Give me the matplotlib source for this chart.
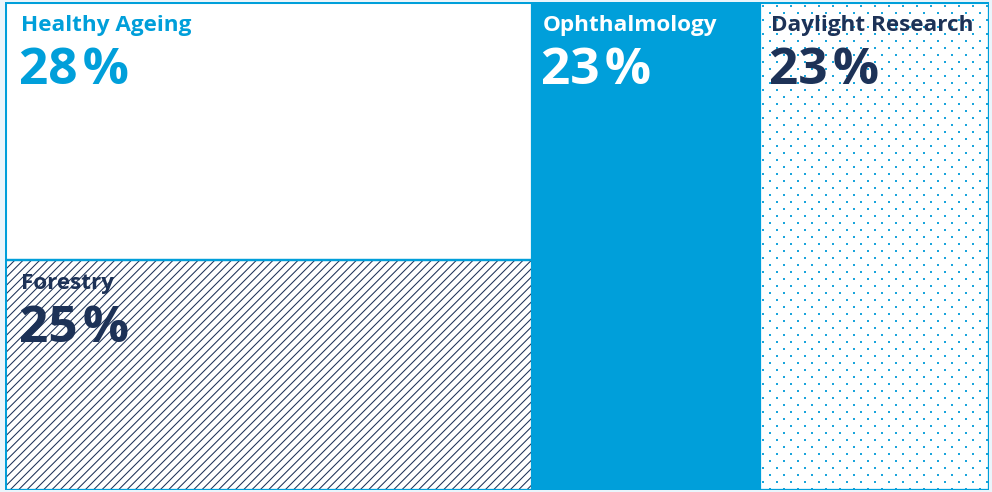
import numpy as np
import matplotlib.pyplot as plt
from matplotlib.patches import Rectangle

# Share of funding by area
areas = ["Healthy Ageing", "Forestry", "Ophthalmology", "Daylight Research"]
shares = [28, 25, 23, 23]

BLUE = "#009FDA"
NAVY = "#1D3257"

plt.rcParams['font.family'] = ['Open Sans', 'DejaVu Sans']
plt.rcParams['hatch.linewidth'] = 0.75

fig = plt.figure(figsize=(9.92, 4.92), dpi=100, facecolor="#EAF5FB")
ax = fig.add_axes([5 / 992, 2 / 492, 984 / 992, 488 / 492])
total = sum(shares)
ax.set_xlim(0, total)
ax.set_ylim(0, 1)
ax.axis("off")

# treemap layout: first two stacked in a column, then two full-height columns
left_w = shares[0] + shares[1]
h0 = shares[0] / left_w
rects = [
    (0, 1 - h0, left_w, h0),
    (0, 0, left_w, 1 - h0),
    (left_w, 0, shares[2], 1),
    (left_w + shares[2], 0, shares[3], 1),
]

px_x = 984 / total  # pixels per x unit
px_y = 488          # pixels per y unit

styles = [
    dict(fc="white", hatch=None, txt=BLUE, pad=11.5),
    dict(fc="white", hatch="////", txt=NAVY, pad=11.5),
    dict(fc=BLUE, hatch=None, txt="white", pad=8),
    dict(fc="white", hatch=None, txt=NAVY, pad=7.5),
]

for i, ((x, y, w, h), st) in enumerate(zip(rects, styles)):
    r = Rectangle((x, y), w, h, facecolor=st["fc"], edgecolor=NAVY if st["hatch"] else "none",
                  hatch=st["hatch"], linewidth=0, zorder=1)
    ax.add_patch(r)
    if i == 3:
        # dotted texture, staggered lattice
        step = 7
        nx = int(w * px_x / step) + 2
        ny = int(h * px_y / step) + 2
        gx, gy = np.meshgrid(np.arange(nx), np.arange(ny))
        keep = (gx + gy) % 2 == 0
        dx = x + (3 + gx[keep] * step) / px_x
        dy = y + h - (4 + gy[keep] * step) / px_y
        sc = ax.scatter(dx, dy, s=2.2, marker="s", color="#1AA5DC", linewidths=0, zorder=2)
        sc.set_clip_path(r)
    if i != 2:
        ax.add_patch(Rectangle((x, y), w, h, facecolor="none", edgecolor=BLUE,
                               linewidth=1.6, zorder=3))

# outer frame
ax.add_patch(Rectangle((0, 0), total, 1, facecolor="none", edgecolor=BLUE, linewidth=2.2, zorder=4))

for (x, y, w, h), st, name, val in zip(rects, styles, areas, shares):
    top = (x, y + h)
    ax.annotate(name, top, xytext=(st["pad"], -9.5), textcoords="offset points",
                ha="left", va="top", fontsize=16.2, fontweight="bold", color=st["txt"], zorder=5)
    ax.annotate(f"{val}\u200a%", top, xytext=(st["pad"] - 1.5, -32), textcoords="offset points",
                ha="left", va="top", fontsize=37, fontweight="bold", color=st["txt"], zorder=5)

fig.savefig("out.png", dpi=100, facecolor=fig.get_facecolor())
